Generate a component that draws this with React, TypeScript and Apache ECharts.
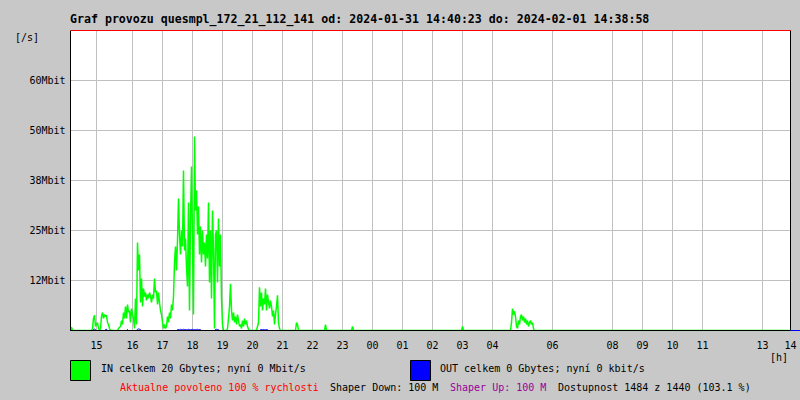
import React, { useEffect, useRef } from "react";
import * as echarts from "echarts";

// ---- texts ----
const TITLE =
  "Graf provozu quesmpl_172_21_112_141 od: 2024-01-31 14:40:23 do: 2024-02-01 14:38:58";
const IN_LEGEND = "IN celkem 20 Gbytes; nyní 0 Mbit/s";
const OUT_LEGEND = "OUT celkem 0 Gbytes; nyní 0 kbit/s";
const STATUS_ALLOWED = "Aktualne povoleno 100 % rychlosti";
const STATUS_DOWN = "Shaper Down: 100 M";
const STATUS_UP = "Shaper Up: 100 M";
const STATUS_AVAIL = "Dostupnost 1484 z 1440 (103.1 %)";

// ---- axes (x in sample columns, y in Mbit/s) ----
const X_MIN = 1;
const X_MAX = 721;
const hourLabels = ["15", "16", "17", "18", "19", "20", "21", "22", "23", "00", "01", "02", "03", "04", "06", "08", "09", "10", "11", "13", "14"];
const hourTicks = [27, 63, 93, 123, 153, 183, 213, 243, 273, 303, 333, 363, 393, 423, 483, 543, 573, 603, 633, 693, 721];
const Y_MAX = 75;
const Y_STEP = 12.5;
const yTickLabels = ["", "12Mbit", "25Mbit", "38Mbit", "50Mbit", "60Mbit", ""];

// ---- IN traffic (Mbit/s), bursts with their first sample column ----
const inSpotStart = 2;
const inSpot = [0.8];
const inBurst15Start = 23;
const inBurst15 = [0.5, 3.0, 3.8, 1.0, 1.5, 2.0, 0.5, 0, 0.5, 3.5, 4.5, 3.0, 4.0, 3.5, 3.8, 2.0, 1.5, 0.5];
const inBurst16Start = 49;
const inBurst16 = [
  0.5, 0.8, 1.0, 2.5, 1.5, 4.5, 3.0, 6.0, 3.0, 6.5, 4.5, 5.0, 2.0, 5.5, 4.0, 3.0, 0.5, 8.0, 1.5,
  22.0, 15.0, 19.0, 7.0, 13.0, 6.0, 10.5, 8.5, 9.5, 7.5, 9.0, 8.0, 9.5, 8.5, 7.0, 9.0, 8.0, 13.0,
  9.5, 10.0, 6.5, 9.5, 7.0, 5.0, 4.0, 2.0, 0.5, 1.5, 0.5, 1.0, 3.5, 2.0, 4.5, 3.0, 6.5, 5.0, 8.5,
];
const inBurst18Start = 105;
const inBurst18 = [
  17.0, 21.0, 15.0, 22.5, 33.0, 24.0, 19.0, 25.0, 21.0, 40.0, 20.0, 23.0, 16.0, 11.0, 32.0, 5.0,
  28.0, 41.0, 22.0, 4.0, 48.5, 30.0, 35.0, 24.0, 31.0, 19.0, 26.0, 17.0, 25.0, 19.0, 22.0, 16.0,
  24.0, 18.0, 32.0, 12.0, 25.0, 8.0, 30.0, 20.0, 0.5, 24.0, 25.0, 12.0, 28.0, 16.0, 24.0, 8.0, 1.5,
];
const inBurst19Start = 158;
const inBurst19 = [0.5, 3.0, 6.0, 11.7, 5.0, 2.5, 4.5, 2.0, 3.5, 1.5, 4.0, 2.5, 1.0, 1.5, 0.5, 2.5, 1.0, 3.0, 1.5, 2.5, 1.0, 0.3];
const inBurst20Start = 188;
const inBurst20 = [1.0, 2.0, 10.8, 6.0, 9.5, 5.0, 8.0, 6.5, 10.5, 5.0, 9.0, 7.0, 5.5, 7.5, 6.0, 3.5, 5.0, 1.5, 4.0, 6.0, 8.8, 2.0, 0.5];
const inBlip21Start = 227;
const inBlip21 = [2.0, 1.5];
const inBlip22Start = 256;
const inBlip22 = [1.5];
const inBlip23Start = 283;
const inBlip23 = [1.0];
const inBlip03Start = 393;
const inBlip03 = [1.0];
const inBurst05Start = 442;
const inBurst05 = [2.0, 5.5, 4.0, 4.8, 3.5, 1.0, 0.5, 2.5, 1.5, 3.5, 4.0, 2.5, 3.5, 2.0, 3.0, 1.5, 2.5, 1.0, 2.0, 2.5, 1.5, 2.0, 0.5];

// ---- OUT traffic (Mbit/s) ----
const outA = [0.25, 0.35, 0.2];
const outAStart = 24;
const outB = [0.25, 0.3];
const outBStart = 36;
const outC = [0.25];
const outCStart = 58;
const outD = [0.3, 0.4, 0.3, 0.2];
const outDStart = 68;
const outE = [0.2, 0.25, 0.2, 0.3, 0.25, 0.2, 0.3, 0.25, 0.25, 0.2, 0.2, 0.3, 0.25, 0.2, 0.25, 0.3, 0.2, 0.25, 0.2, 0.25, 0.3, 0.2, 0.25, 0.2];
const outEStart = 108;
const outF = [0.25, 0.3, 0.25, 0.2];
const outFStart = 146;
const outG = [0.2, 0.25, 0.2, 0.25, 0.2, 0.2, 0.25, 0.2];
const outGStart = 191;

function build(segments: [number, number[]][]): [number, number][] {
  const vals: number[] = [];
  for (let v = X_MIN; v <= X_MAX; v++) vals.push(0);
  segments.forEach(([start, arr]) => {
    arr.forEach((val, i) => {
      const idx = start + i - X_MIN;
      if (idx >= 0 && idx < vals.length) vals[idx] = val;
    });
  });
  return vals.map((val, i) => [X_MIN + i, val]);
}

const inData = build([
  [inSpotStart, inSpot],
  [inBurst15Start, inBurst15],
  [inBurst16Start, inBurst16],
  [inBurst18Start, inBurst18],
  [inBurst19Start, inBurst19],
  [inBurst20Start, inBurst20],
  [inBlip21Start, inBlip21],
  [inBlip22Start, inBlip22],
  [inBlip23Start, inBlip23],
  [inBlip03Start, inBlip03],
  [inBurst05Start, inBurst05],
]);
const outData = build([
  [outAStart, outA],
  [outBStart, outB],
  [outCStart, outC],
  [outDStart, outD],
  [outEStart, outE],
  [outFStart, outF],
  [outGStart, outG],
]);

const MONO = '"DejaVu Sans Mono", monospace';
const FONT = `10px ${MONO}`;

export default function App() {
  const ref = useRef<HTMLDivElement>(null);
  useEffect(() => {
    if (!ref.current) return;
    const chart = echarts.init(ref.current, undefined, { renderer: "svg" });
    const L = 70.5, T = 30.5, W = 720, H = 300;
    const R = L + W, B = T + H;
    const txt = (x: number, y: number, text: string, fill = "#000", font = FONT, align = "left") => ({
      type: "text",
      x,
      y,
      z: 100,
      style: { text, fill, font, align, verticalAlign: "middle" },
    });
    const ln = (x1: number, y1: number, x2: number, y2: number, stroke: string) => ({
      type: "line",
      z: 100,
      shape: { x1, y1, x2, y2 },
      style: { stroke, lineWidth: 1 },
    });
    chart.setOption({
      animation: false,
      backgroundColor: "#c8c8c8",
      textStyle: { fontFamily: MONO },
      grid: {
        left: L,
        top: T,
        width: W,
        height: H,
        show: true,
        backgroundColor: "#ffffff",
        borderWidth: 0,
        containLabel: false,
        outerBoundsMode: "none",
      },
      xAxis: {
        type: "value",
        min: X_MIN,
        max: X_MAX,
        axisLine: { show: false },
        axisTick: { show: false },
        splitLine: { show: false },
        axisLabel: {
          customValues: hourTicks,
          formatter: (v: number) => hourLabels[hourTicks.indexOf(v)] ?? "",
          color: "#000",
          fontSize: 10,
          fontFamily: MONO,
          margin: 10,
        },
      },
      yAxis: {
        type: "value",
        min: 0,
        max: Y_MAX,
        interval: Y_STEP,
        axisLine: { show: false },
        axisTick: { show: false },
        splitLine: { lineStyle: { color: "#c0c0c0", width: 1 } },
        axisLabel: {
          formatter: (v: number) => yTickLabels[Math.round(v / Y_STEP)] ?? "",
          color: "#000",
          fontSize: 10,
          fontFamily: MONO,
          margin: 5,
          padding: [3, 0, 0, 0],
        },
      },
      series: [
        {
          name: "grid",
          type: "line",
          data: [],
          z: 1,
          silent: true,
          markLine: {
            z: 1,
            silent: true,
            symbol: "none",
            label: { show: false },
            lineStyle: { color: "#c0c0c0", width: 1, type: "solid" },
            data: hourTicks.map((v) => ({ xAxis: v })),
          },
        },
        {
          name: "IN",
          type: "line",
          data: inData,
          z: 3,
          showSymbol: false,
          symbol: "none",
          silent: true,
          lineStyle: { color: "#00ff00", width: 1.5 },
        },
        {
          name: "OUT",
          type: "line",
          data: outData,
          z: 4,
          showSymbol: false,
          symbol: "none",
          silent: true,
          lineStyle: { color: "#0000ff", width: 1 },
        },
      ],
      graphic: [
        ln(L, T, L, B, "#000"),
        ln(L, B, R, B, "#000"),
        ln(R, T, R, B, "#000"),
        ln(L, T, R, T, "#ff0000"),
        ln(R, B, 800, B, "#0000ff"),
        txt(70, 19, TITLE, "#000", `bold 11.6px ${MONO}`),
        txt(15, 37.5, "[/s]"),
        txt(770, 357, "[h]"),
        {
          type: "rect",
          z: 100,
          shape: { x: 70.5, y: 360.5, width: 20, height: 20 },
          style: { fill: "#00ff00", stroke: "#000", lineWidth: 1 },
        },
        {
          type: "rect",
          z: 100,
          shape: { x: 410.5, y: 360.5, width: 20, height: 20 },
          style: { fill: "#0000ff", stroke: "#000", lineWidth: 1 },
        },
        txt(101, 368, IN_LEGEND),
        txt(440, 368, OUT_LEGEND),
        txt(120, 387.5, STATUS_ALLOWED, "#ff0000"),
        txt(330, 387.5, STATUS_DOWN, "#000"),
        txt(450, 387.5, STATUS_UP, "#990099"),
        txt(558, 387.5, STATUS_AVAIL, "#000"),
      ],
    });
    return () => chart.dispose();
  }, []);
  return (
    <div
      ref={ref}
      style={{ position: "absolute", left: 0, top: 0, width: 800, height: 400 }}
    />
  );
}
